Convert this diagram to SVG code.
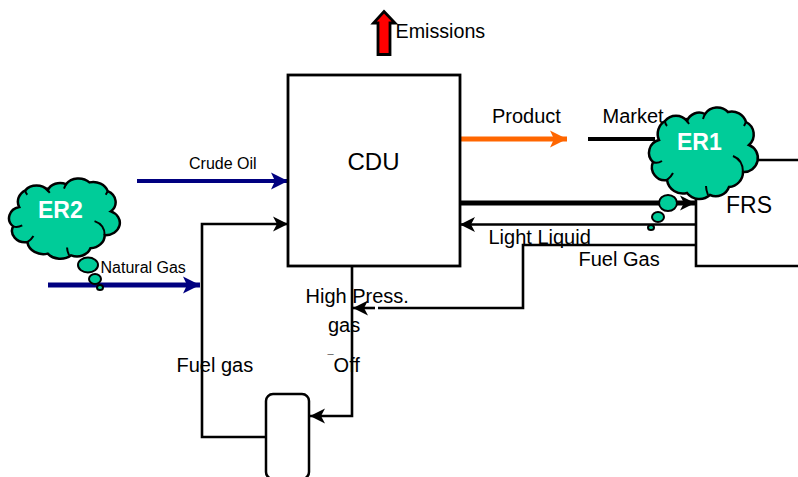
<svg xmlns="http://www.w3.org/2000/svg" xmlns:xlink="http://www.w3.org/1999/xlink" width="798" height="477" viewBox="0 0 798 477">
<style>
text{font-family:"Liberation Sans",Arial,sans-serif;fill:#000;font-size:20px}
.s{font-size:16px}
.er{font-weight:bold;fill:#fff;font-size:23px}
.box{fill:#fff;stroke:#000;stroke-width:2.800}
.ln{fill:none;stroke:#000;stroke-width:2.600}
.cl{fill:#00cc99;stroke:#000;stroke-width:2.500;vector-effect:non-scaling-stroke}
.hook{fill:none;stroke:#000;stroke-width:2;vector-effect:non-scaling-stroke}
.bub{fill:#00cc99;stroke:#000;stroke-width:2}
</style>
<defs>
<marker id="ab" markerUnits="userSpaceOnUse" markerWidth="18" markerHeight="18" refX="16" refY="9" orient="auto"><path d="M1 1.500L16 9L1 16.500L5 9Z" fill="#000"/></marker>
<marker id="an" markerUnits="userSpaceOnUse" markerWidth="20" markerHeight="20" refX="18" refY="10" orient="auto"><path d="M1 1.500L18 10L1 18.500L5 10Z" fill="#000080"/></marker>
<marker id="ao" markerUnits="userSpaceOnUse" markerWidth="20" markerHeight="20" refX="18" refY="10" orient="auto"><path d="M1 1.500L18 10L1 18.500L5 10Z" fill="#ff6600"/></marker>
<g id="cloud">
<path class="cl" d="M659 140A15 15 0 0 1 665 121A14 14 0 0 1 687 121A13 13 0 0 1 705 114A15 15 0 0 1 728 112A15 15 0 0 1 746 122A14 14 0 0 1 749 145A14 14 0 0 1 743 172A15 15 0 0 1 729 187A14 14 0 0 1 710 195A16 16 0 0 1 687 193A16 16 0 0 1 667 180A13 13 0 0 1 653 162A13 13 0 0 1 659 140Z"/>
<path class="hook" d="M653 162Q657 164 662 161M667 180Q671 177 673 173M733 156Q743 160 743 172M708 195Q706 190 706 186M686 118Q687 121 689 124M665 121Q665 124 667 126M705 114Q704 116 703 119M746 122Q745 124 744 126"/>
</g>
</defs>
<g id="connectors">
<path class="ln" d="M352 266V416H310" marker-end="url(#ab)"/>
<path class="ln" d="M266 437H202V224H288" marker-end="url(#ab)"/>
<path d="M137 181H288" fill="none" stroke="#000080" stroke-width="4" marker-end="url(#an)"/>
<path d="M48 285H200" fill="none" stroke="#000080" stroke-width="5" marker-end="url(#an)"/>
<path d="M460 139H567" fill="none" stroke="#ff6600" stroke-width="5" marker-end="url(#ao)"/>
<path d="M588 139H655" fill="none" stroke="#000" stroke-width="4"/>
<path d="M460 203H695" fill="none" stroke="#000" stroke-width="5" marker-end="url(#ab)"/>
<path class="ln" d="M696 224.500H460" marker-end="url(#ab)"/>
<path class="ln" d="M696 245H523V308H378"/>
<path class="ln" d="M375 308H353" marker-end="url(#ab)"/>
</g>
<g id="cdu"><rect class="box" x="288" y="75" width="172" height="191"/><text x="347.500" y="170" style="font-size:24px">CDU</text></g>
<g id="frs"><path class="ln" d="M750 160H800M696 195V266H800"/><text x="726" y="213" style="font-size:23px">FRS</text></g>
<g id="vessel"><rect x="266" y="394" width="43" height="85" rx="7" fill="#fff" stroke="#000" stroke-width="2.500"/></g>
<g id="emissions"><path d="M384 11.500L395 23H390V54.500H378V23H373.500Z" fill="#ff0000" stroke="#000" stroke-width="2.800"/><text x="395.500" y="38" style="font-size:19.700px">Emissions</text></g>
<g id="er1"><use xlink:href="#cloud" href="#cloud"/><text class="er" x="677" y="150">ER1</text>
<ellipse class="bub" cx="668" cy="203" rx="9" ry="8"/><ellipse class="bub" cx="658" cy="217" rx="6" ry="5"/><ellipse class="bub" cx="651" cy="227.500" rx="3" ry="2.500"/></g>
<g id="er2"><use xlink:href="#cloud" href="#cloud" transform="translate(8 178) scale(1.018 .879) translate(-648 -107)"/><text class="er" x="38" y="218">ER2</text>
<ellipse class="bub" cx="88" cy="265" rx="10" ry="7.500"/><ellipse class="bub" cx="95" cy="279" rx="6" ry="5"/><ellipse class="bub" cx="100" cy="287.500" rx="3" ry="2.500"/></g>
<g id="labels">
<text class="s" x="189" y="169">Crude Oil</text>
<text class="s" x="100.500" y="273">Natural Gas</text>
<text x="492" y="123">Product</text>
<text x="602.500" y="123">Market</text>
<text x="488.500" y="244">Light Liquid</text>
<text x="578.500" y="266">Fuel Gas</text>
<text x="305.500" y="303">High Press.</text>
<text x="328" y="332">gas</text>
<text x="327.500" y="372"><tspan style="font-size:11px" dy="-9">¯</tspan><tspan dy="9">Off</tspan></text>
<text x="176.500" y="372">Fuel gas</text>
</g>
</svg>
